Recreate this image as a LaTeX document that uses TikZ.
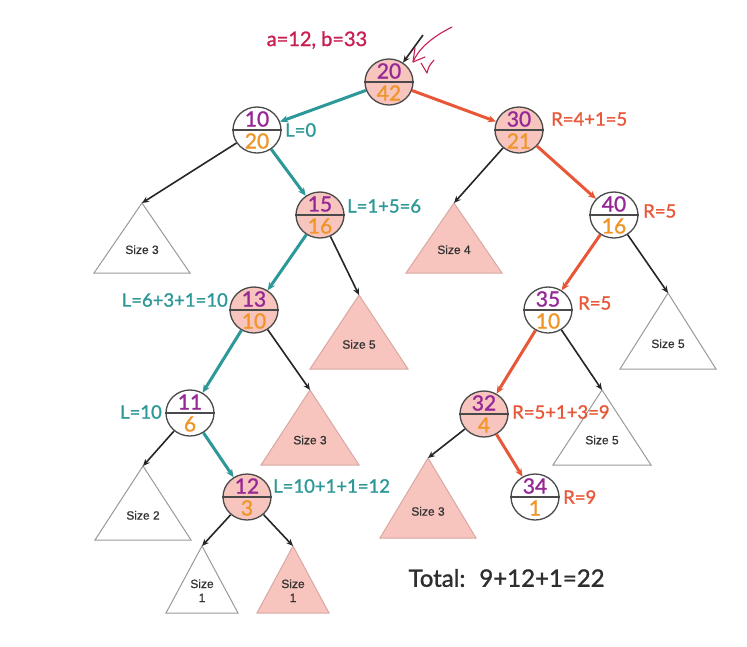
\documentclass[tikz,border=0pt]{standalone}
\usepackage{fontspec}
\usetikzlibrary{shapes.geometric,arrows.meta}
\newfontfamily\labfont[FakeBold=1.2]{Lato}
\newfontfamily\sizefont[FakeBold=0.8]{Liberation Sans}
\definecolor{tealc}{HTML}{2C9898}
\definecolor{redc}{HTML}{E85838}
\definecolor{purpc}{HTML}{962896}
\definecolor{orngc}{HTML}{F09628}
\definecolor{pinkc}{HTML}{F7C4BE}
\definecolor{pinkedge}{HTML}{D9A8A4}
\definecolor{crimc}{HTML}{C81E50}
\definecolor{nodegray}{HTML}{4A4A4A}
\definecolor{trigray}{HTML}{9A9A9A}
\tikzset{
  tn/.style={ellipse, draw=nodegray, line width=1.3pt, minimum width=48pt, minimum height=46pt, inner sep=0pt},
  pinkn/.style={tn, fill=pinkc},
  whiten/.style={tn, fill=white},
  topnum/.style={font=\labfont\fontsize{21}{21}\selectfont, text=purpc, inner sep=0pt},
  botnum/.style={font=\labfont\fontsize{21}{21}\selectfont, text=orngc, inner sep=0pt},
  tedge/.style={draw=tealc, line width=3pt, -{Stealth[length=8pt,width=7pt]}},
  oedge/.style={draw=redc, line width=3pt, -{Stealth[length=8pt,width=7pt]}},
  bedge/.style={draw=black!85, line width=1.6pt, -{Stealth[length=7pt,width=6pt]}},
  wtri/.style={draw=trigray, line width=1pt, fill=white},
  ptri/.style={draw=pinkedge, line width=1pt, fill=pinkc},
  tlab/.style={font=\sizefont\fontsize{12}{14}\selectfont, text=black!80, align=center},
  tl/.style={font=\labfont\fontsize{18.5}{18.5}\selectfont, text=tealc, inner sep=1pt},
  ol/.style={font=\labfont\fontsize{18.5}{18.5}\selectfont, text=redc, inner sep=1pt},
}
\newcommand\treenode[5]{%
  \node[#5] (#1) at (#2) {};
  \draw[nodegray, line width=1.3pt] (#1.west) -- (#1.east);
  \node[topnum] at ([yshift=11pt]#1.center) {#3};
  \node[botnum] at ([yshift=-11pt]#1.center) {#4};
}
\newcommand\subtri[7]{%
  \coordinate (#1) at (#2,#3);
  \draw[#6] (#1) -- ({#2-#4},#5) -- ({#2+#4},#5) -- cycle;
  \node[tlab] (#1lab) at (#2,{(#3+2*#5)/3}) {#7};
}
\begin{document}
\begin{tikzpicture}[x=1pt,y=-1pt]
\useasboundingbox[fill=white] (0,0) rectangle (747,646);

% triangles
\subtri{t1}{142}{203}{48}{273}{wtri}{Size 3}
\subtri{t2}{454}{203}{48}{273}{ptri}{Size 4}
\subtri{t3}{359}{295}{49}{369}{ptri}{Size 5}
\subtri{t4}{668}{293}{48}{369}{wtri}{Size 5}
\subtri{t5}{310}{390}{49}{465}{ptri}{Size 3}
\subtri{t6}{602}{390}{49}{465}{wtri}{Size 5}
\subtri{t7}{143}{466}{48}{540}{wtri}{Size 2}
\subtri{t8}{428}{458}{48}{538}{ptri}{Size 3}
\subtri{t9}{202}{546}{36}{613}{wtri}{Size\\1}
\subtri{t10}{293}{546}{36}{613}{ptri}{Size\\1}

% tree nodes
\treenode{n20}{389,82}{20}{42}{pinkn}
\treenode{n10}{257,130}{10}{20}{whiten}
\treenode{n30}{519,130}{30}{21}{pinkn}
\treenode{n15}{320,215}{15}{16}{pinkn}
\treenode{n40}{614,215}{40}{16}{whiten}
\treenode{n13}{254,310}{13}{10}{pinkn}
\treenode{n35}{548,310}{35}{10}{whiten}
\treenode{n11}{190,413}{11}{6}{whiten}
\treenode{n32}{484,414}{32}{4}{pinkn}
\treenode{n12}{247,497}{12}{3}{pinkn}
\treenode{n34}{535,497}{34}{1}{whiten}

% coloured search path
\draw[tedge] (n20) -- (n10);
\draw[oedge] (n20) -- (n30);
\draw[tedge] (n10) -- (n15);
\draw[oedge] (n30) -- (n40);
\draw[tedge] (n15) -- (n13);
\draw[oedge] (n40) -- (n35);
\draw[tedge] (n13) -- (n11);
\draw[oedge] (n35) -- (n32);
\draw[tedge] (n11) -- (n12);
\draw[oedge] (n32) -- (n34);

% black edges to subtrees
\draw[bedge] (n10) -- (t1);
\draw[bedge] (n30) -- (t2);
\draw[bedge] (n15) -- (t3);
\draw[bedge] (n40) -- (t4);
\draw[bedge] (n13) -- (t5);
\draw[bedge] (n35) -- (t6);
\draw[bedge] (n11) -- (t7);
\draw[bedge] (n32) -- (t8);
\draw[bedge] (n12) -- (t9);
\draw[bedge] (n12) -- (t10);

% root pointers
\coordinate (rootin) at (423,35);
\draw[bedge] (rootin) -- (n20);
\coordinate (hs) at (452,27);
\coordinate (he) at (413,62);
\draw[crimc, line width=1.1pt, line cap=round, line join=round] (hs) .. controls (430,38) and (418,50) .. (he);
\draw[crimc, line width=1.1pt, line cap=round, line join=round] (415,48) -- (he) -- (425,57);
\coordinate (ck1) at (421,63);
\coordinate (ck2) at (427,73);
\coordinate (ck3) at (434,60);
\draw[crimc, line width=1.1pt, line cap=round, line join=round] (ck1) -- (ck2) .. controls (429,66) .. (ck3);

% labels
\node[font=\labfont\fontsize{20}{20}\selectfont, text=crimc] (ab) at (317,40) {a=12, b=33};
\node[tl, anchor=west] (l1) at (284,130) {L=0};
\node[ol, anchor=west] (r1) at (550,119) {R=4+1=5};
\node[tl, anchor=west] (l2) at (346,206) {L=1+5=6};
\node[ol, anchor=west] (r2) at (642,211) {R=5};
\node[tl, anchor=east] (l3) at (229,300) {L=6+3+1=10};
\node[ol, anchor=west] (r3) at (577,303) {R=5};
\node[tl, anchor=east] (l4) at (163,412) {L=10};
\node[ol, anchor=west] (r4) at (511,412) {R=5+1+3=9};
\node[tl, anchor=west] (l5) at (272,486) {L=10+1+1=12};
\node[ol, anchor=west] (r5) at (562,497) {R=9};
\node[font=\labfont\fontsize{24}{24}\selectfont, text=black!82, anchor=west] (tot) at (405,578) {Total:\hspace{14pt}9+12+1=22};
\end{tikzpicture}
\end{document}
